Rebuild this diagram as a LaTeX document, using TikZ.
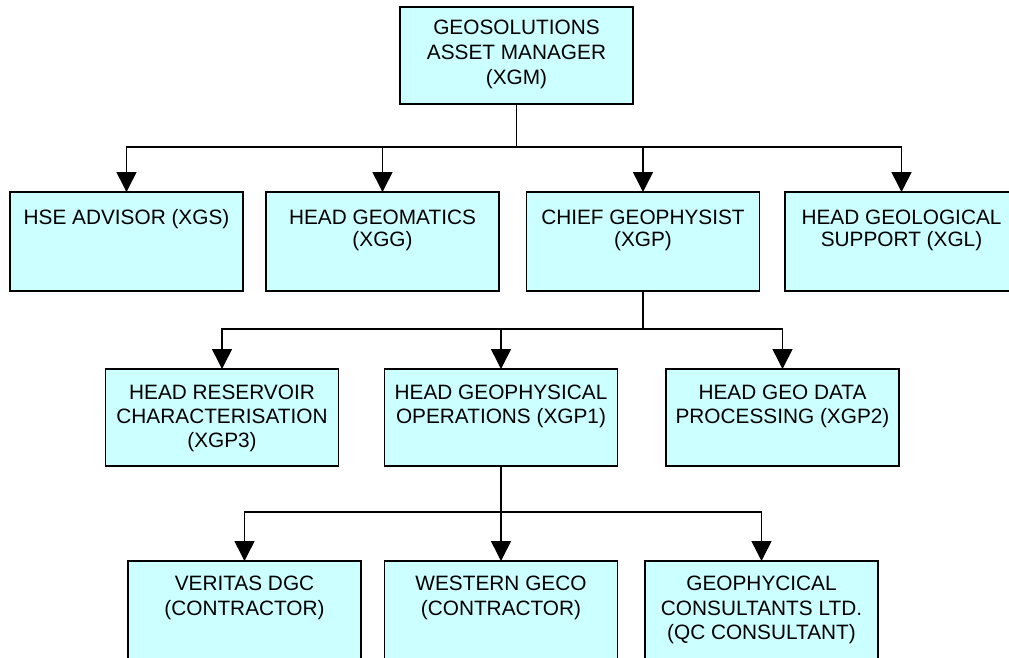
\documentclass[tikz,border=0pt]{standalone}
\usepackage{fontspec}
\setmainfont{Liberation Sans}
\usetikzlibrary{arrows.meta}
\definecolor{boxfill}{HTML}{CCFFFF}
% #1 box height, #2 baselineskip, #3 first baseline depth, #4 text
\newcommand{\btext}[4]{\parbox[c][#1pt][t]{233pt}{\centering\fontsize{20.8pt}{#2pt}\selectfont\rule{0pt}{#3pt}#4\par}}
\begin{document}
\begin{tikzpicture}[x=1pt,y=-1pt,
  box/.style={draw=black, line width=1.2pt, fill=boxfill, inner sep=0pt, outer sep=0pt},
  conn/.style={line width=1.5pt},
  arr/.style={line width=1.5pt, -{Triangle[width=20pt,length=20pt]}}]
\useasboundingbox (0,0) rectangle (1009,657);
\clip (0,0) rectangle (1009,657);
% level 0
\node[box] (xgm) at (516.5,55.5) {\btext{97}{25}{27.5}{GEOSOLUTIONS\\ASSET MANAGER\\(XGM)}};
% level 1
\node[box] (xgs) at (126.5,241.5) {\btext{99}{22.5}{32}{HSE ADVISOR (XGS)}};
\node[box] (xgg) at (382.5,241.5) {\btext{99}{22.5}{32}{HEAD GEOMATICS\\(XGG)}};
\node[box] (xgp) at (643,241.5) {\btext{99}{22.5}{32}{CHIEF GEOPHYSIST\\(XGP)}};
\node[box] (xgl) at (901.5,241.5) {\btext{99}{22.5}{32}{HEAD GEOLOGICAL\\SUPPORT (XGL)}};
% level 2
\node[box] (xgp3) at (222,417.5) {\btext{97}{24}{30.5}{HEAD RESERVOIR\\CHARACTERISATION\\(XGP3)}};
\node[box] (xgp1) at (501,417.5) {\btext{97}{24}{30.5}{HEAD GEOPHYSICAL\\OPERATIONS (XGP1)}};
\node[box] (xgp2) at (782.5,417.5) {\btext{97}{24}{30.5}{HEAD GEO DATA\\PROCESSING (XGP2)}};
% level 3
\node[box] (vdgc) at (244.5,611) {\btext{100}{24.5}{29.5}{VERITAS DGC\\(CONTRACTOR)}};
\node[box] (wg) at (501,611) {\btext{100}{24.5}{29.5}{WESTERN GECO\\(CONTRACTOR)}};
\node[box] (gcl) at (761.5,611) {\btext{100}{24.5}{29.5}{GEOPHYCICAL\\CONSULTANTS LTD.\\(QC CONSULTANT)}};
% connectors
\coordinate (j1) at (516.5,147);
\draw[conn] (xgm.south) -- (j1);
\draw[arr] (j1) -| (xgs.north);
\draw[arr] (j1) -| (xgg.north);
\draw[arr] (j1) -| (xgp.north);
\draw[arr] (j1) -| (xgl.north);
\coordinate (j2) at (643,329);
\draw[conn] (xgp.south) -- (j2);
\draw[arr] (j2) -| (xgp3.north);
\draw[arr] (j2) -| (xgp1.north);
\draw[arr] (j2) -| (xgp2.north);
\coordinate (j3) at (501,512);
\draw[conn] (xgp1.south) -- (j3);
\draw[arr] (j3) -| (vdgc.north);
\draw[arr] (j3) -| (wg.north);
\draw[arr] (j3) -| (gcl.north);
\end{tikzpicture}
\end{document}
